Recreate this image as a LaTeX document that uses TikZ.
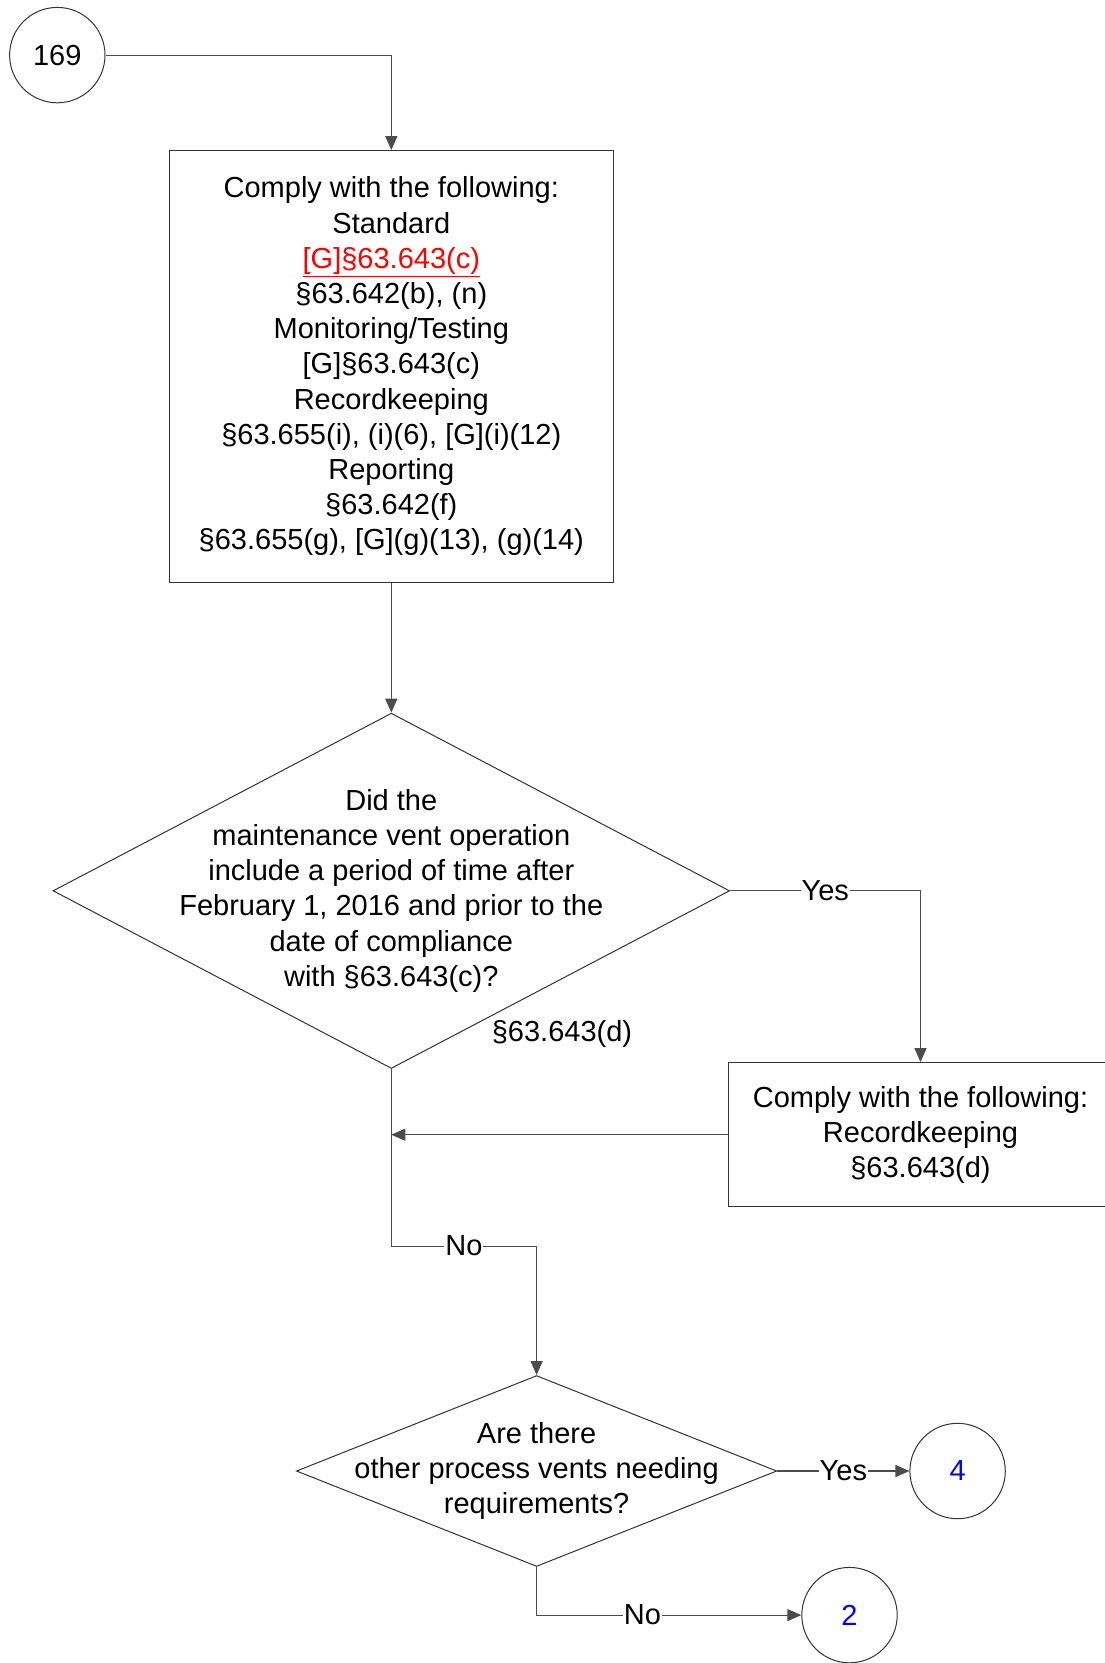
\documentclass[tikz,border=0pt]{standalone}
\usepackage{fontspec}
\setmainfont{Liberation Sans}
\usetikzlibrary{arrows.meta,shapes.geometric}
\begin{document}
\begin{tikzpicture}[x=1pt,y=-1pt,
  every node/.style={font=\fontsize{29}{35.2}\selectfont},
  box/.style={draw=black!80, line width=1pt, rectangle, inner sep=0pt, align=center},
  decision/.style={draw=black!80, line width=1pt, diamond, inner sep=0pt},
  circ/.style={draw=black!80, line width=1pt, circle, minimum size=95.4pt, inner sep=0pt},
  conn/.style={draw=black!70, line width=1.2pt, -{Triangle[length=14pt,width=12pt]}},
  lab/.style={fill=white, inner sep=1pt}]
\useasboundingbox (0,0) rectangle (1105,1663);

\node[circ] (c169) at (57.3,55.1) {169};

\node[box, minimum width=444.4pt, minimum height=431.6pt] (b1) at (391.3,366.4)
 {Comply with the following:\\Standard\\\textcolor{red}{\underline{[G]§63.643(c)}}\\§63.642(b), (n)\\Monitoring/Testing\\{}[G]§63.643(c)\\Recordkeeping\\§63.655(i), (i)(6), [G](i)(12)\\Reporting\\§63.642(f)\\§63.655(g), [G](g)(13), (g)(14)};

\node[decision, minimum width=676.6pt, minimum height=355.3pt] (d1) at (391.3,890.8) {};
\node[align=center] (d1t) at (d1) {Did the\\maintenance vent operation\\include a period of time after\\February 1, 2016 and prior to the\\date of compliance\\with §63.643(c)?};

\node (ref) at (562,1034) {§63.643(d)};

\node[box, minimum width=384pt, minimum height=144.2pt] (b2) at (920.5,1134.7)
 {Comply with the following:\\Recordkeeping\\§63.643(d)};

\node[decision, minimum width=480.4pt, minimum height=190.9pt] (d2) at (536.6,1471) {};
\node[align=center] (d2t) at (d2) {Are there\\other process vents needing\\requirements?};

\node[circ, text=blue] (c4) at (957.6,1471) {4};
\node[circ, text=blue] (c2) at (849.5,1615.1) {2};

\coordinate (j1) at (d1.south |- b2.west);
\coordinate (k1) at (391.3,1246.1);

\draw[conn] (c169.east) -| (b1.north);
\draw[conn] (b1.south) -- (d1.north);
\draw[conn] (d1.east) -| node[lab, pos=0.25] {Yes} (b2.north);
\draw[conn] (b2.west) -- (j1);
\draw[conn] (d1.south) -- (k1) -| node[lab, pos=0.25] {No} (d2.north);
\draw[conn] (d2.east) -- node[lab] {Yes} (c4.west);
\draw[conn] (d2.south) |- node[lab, pos=0.7] {No} (c2.west);
\end{tikzpicture}
\end{document}
